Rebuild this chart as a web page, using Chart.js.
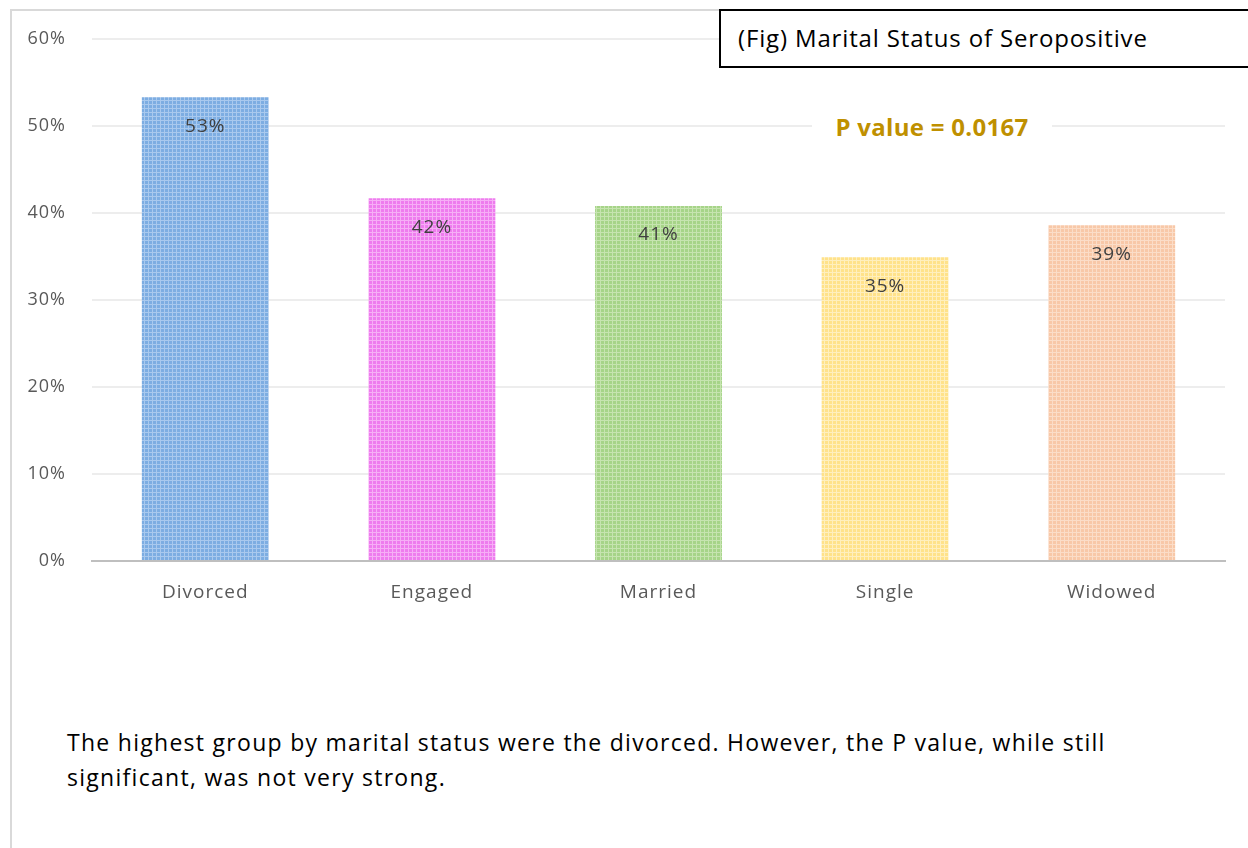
<!DOCTYPE html>
<html>
<head>
<meta charset="utf-8">
<script src="https://cdn.jsdelivr.net/npm/chart.js@4.4.1/dist/chart.umd.min.js"></script>
<style>
  html, body { margin: 0; padding: 0; background: #fff; }
  body { width: 1248px; height: 848px; position: relative; overflow: hidden; font-family: "Open Sans", sans-serif; }
  #frame { position: absolute; left: 10px; top: 9px; width: 1300px; height: 900px; border: 2px solid #D9D9D9; box-sizing: border-box; }
  #wrap { position: absolute; left: 0; top: 0; width: 1248px; height: 620px; }
  #titulo { position: absolute; left: 719px; top: 9px; width: 600px; height: 59px; border: 2px solid #000; box-sizing: border-box; background: #fff;
            font-size: 24px; letter-spacing: 0.85px; color: #000; padding-left: 17px; line-height: 54px; white-space: nowrap; }
  #pvalor { position: absolute; left: 812px; top: 109px; width: 240px; text-align: center; background: #fff;
            font-weight: bold; font-size: 24px; letter-spacing: 0.3px; color: #BF9000; line-height: 36px; }
  #texto { position: absolute; left: 67px; top: 725px; font-size: 23px; letter-spacing: 1.28px; color: #000; line-height: 35px; white-space: nowrap; }
</style>
</head>
<body>
<div id="frame"></div>
<div id="wrap"><canvas id="grafico"></canvas></div>
<div id="titulo">(Fig) Marital Status of Seropositive</div>
<div id="pvalor">P value = 0.0167</div>
<div id="texto">The highest group by marital status were the divorced. However, the P value, while still<br>significant, was not very strong.</div>
<script>
// Dados
const categorias = ['Divorced', 'Engaged', 'Married', 'Single', 'Widowed'];
const valores = [0.533, 0.417, 0.408, 0.349, 0.386];
const rotulos = ['53%', '42%', '41%', '35%', '39%'];
const coresBase = ['#7DADE2', '#EE7CEE', '#A6D488', '#FFE28A', '#F8C8A8'];
const coresLinha = ['#A9C9EE', '#F6AEF6', '#C6E4B0', '#FFEFBE', '#FBDDC8'];

// Textura quadriculada parecida com a do Excel
function criarPadrao(base, linha) {
    const c = document.createElement('canvas');
    c.width = 4; c.height = 4;
    const g = c.getContext('2d');
    g.fillStyle = base;
    g.fillRect(0, 0, 4, 4);
    g.fillStyle = linha;
    g.fillRect(0, 0, 4, 1);
    g.fillRect(0, 0, 1, 4);
    return g.createPattern(c, 'repeat');
}

const padroes = coresBase.map((cor, i) => criarPadrao(cor, coresLinha[i]));

// Espaçamento entre letras, como no Excel
const espacamento = {
    id: 'espacamento',
    beforeDraw(chart) {
        chart.ctx.letterSpacing = '1px';
    }
};

// Plugin para os rótulos dentro das barras
const rotulosBarras = {
    id: 'rotulosBarras',
    afterDatasetsDraw(chart) {
        const ctx = chart.ctx;
        const meta = chart.getDatasetMeta(0);
        ctx.save();
        ctx.letterSpacing = '1px';
        ctx.font = '19px "Open Sans"';
        ctx.fillStyle = '#404040';
        ctx.textAlign = 'center';
        ctx.textBaseline = 'middle';
        meta.data.forEach((barra, i) => {
            ctx.fillText(rotulos[i], barra.x, barra.y + 29);
        });
        ctx.restore();
    }
};

const ctx = document.getElementById('grafico').getContext('2d');
new Chart(ctx, {
    type: 'bar',
    data: {
        labels: categorias,
        datasets: [{
            data: valores,
            backgroundColor: padroes,
            borderWidth: 0,
            barPercentage: 0.56,
            categoryPercentage: 1
        }]
    },
    options: {
        responsive: true,
        maintainAspectRatio: false,
        animation: false,
        layout: { padding: { left: 0, right: 23, top: 39, bottom: 0 } },
        plugins: { legend: { display: false }, tooltip: { enabled: false } },
        scales: {
            x: {
                grid: { display: false },
                border: { color: '#BFBFBF', width: 2 },
                ticks: { color: '#595959', font: { family: 'Open Sans', size: 19 }, padding: 12 },
                afterFit: s => { s.height = 59; }
            },
            y: {
                min: 0,
                max: 0.6,
                grid: { color: '#EDEDED', lineWidth: 2, drawTicks: false },
                border: { display: false },
                ticks: {
                    stepSize: 0.1,
                    padding: 26,
                    color: '#595959',
                    font: { family: 'Open Sans', size: 18 },
                    callback: v => Math.round(v * 100) + '%'
                },
                afterFit: s => { s.width = 92; }
            }
        }
    },
    plugins: [espacamento, rotulosBarras]
});
</script>
</body>
</html>
